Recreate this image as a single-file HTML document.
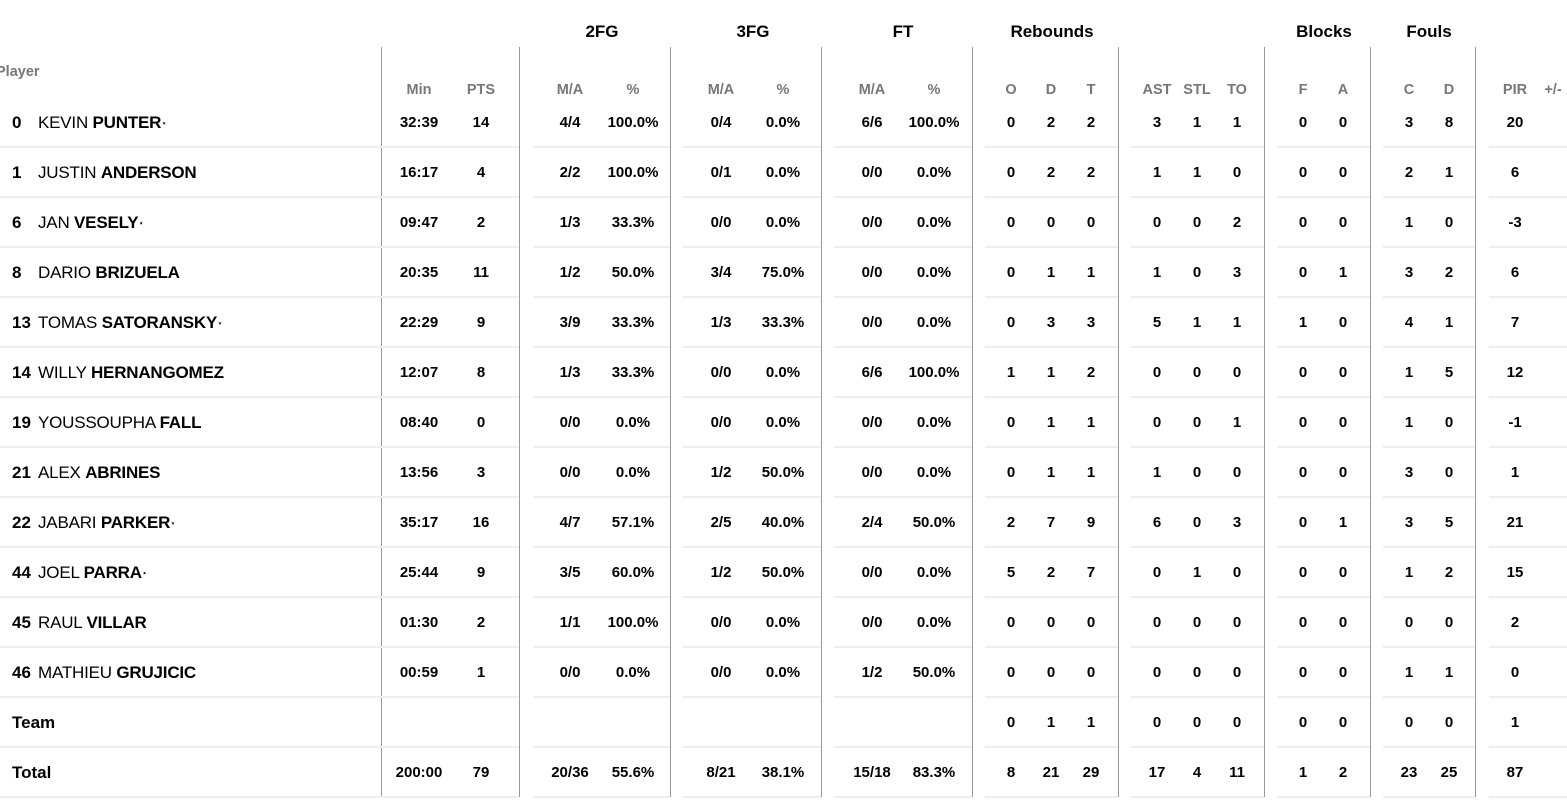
<!DOCTYPE html>
<html><head><meta charset="utf-8"><style>
body{margin:0;width:1567px;height:802px;background:#fff;position:relative;overflow:hidden;font-family:"Liberation Sans",sans-serif;color:#000}
.v{position:absolute;top:47px;height:750px;width:1px;background:#999}
.r{position:absolute;left:0;width:1567px;height:20px}
.r span{position:absolute;width:80px;margin-left:-40px;text-align:center;font-size:15px;font-weight:bold;top:0;line-height:20px}
.r span.nm{width:auto;margin-left:0;text-align:left;font-size:17px;font-weight:normal;left:38px;letter-spacing:-0.2px}
.r span.nm b{font-weight:bold}
.r span.no{width:auto;margin-left:0;left:12px;text-align:left;font-size:17px}
.r span.tm{width:auto;margin-left:0;left:12px;text-align:left;font-size:17px}
.g{position:absolute;top:22px;font-size:17px;font-weight:bold;width:120px;margin-left:-60px;text-align:center}
.s{color:#777}
.s span{font-weight:bold;font-size:14.5px}
sup{font-size:9px;vertical-align:2px}
.a{left:419px}.b{left:481px}.c{left:570px}.d{left:633px}.e{left:721px}.f{left:783px}.g2{left:872px}.h2{left:934px}
.i{left:1011px}.j{left:1051px}.k{left:1091px}.l{left:1157px}.m{left:1197px}.n{left:1237px}.o{left:1303px}.p{left:1343px}.q{left:1409px}.t{left:1449px}.u{left:1515px}.w{left:1553px}
</style></head><body>
<div class="g" style="left:602px">2FG</div>
<div class="g" style="left:753px">3FG</div>
<div class="g" style="left:903px">FT</div>
<div class="g" style="left:1052px">Rebounds</div>
<div class="g" style="left:1324px">Blocks</div>
<div class="g" style="left:1429px">Fouls</div>
<div style="position:absolute;left:-4px;top:64px;font-size:14.5px;font-weight:bold;color:#777">Player</div>
<div class="v" style="left:381px"></div><div class="v" style="left:519px"></div><div class="v" style="left:670px"></div><div class="v" style="left:821px"></div><div class="v" style="left:972px"></div><div class="v" style="left:1118px"></div><div class="v" style="left:1264px"></div><div class="v" style="left:1370px"></div><div class="v" style="left:1475px"></div>
<div class="r s" style="top:80px"><span class="a">Min</span><span class="b">PTS</span><span class="c">M/A</span><span class="d">%</span><span class="e">M/A</span><span class="f">%</span><span class="g2">M/A</span><span class="h2">%</span><span class="i">O</span><span class="j">D</span><span class="k">T</span><span class="l">AST</span><span class="m">STL</span><span class="n">TO</span><span class="o">F</span><span class="p">A</span><span class="q">C</span><span class="t">D</span><span class="u">PIR</span><span class="w">+/-</span></div>

<div class="r" style="top:113px"><span class="no">0</span><span class="nm">KEVIN <b>PUNTER</b><sup>⋆</sup></span><span class="a">32:39</span><span class="b">14</span><span class="c">4/4</span><span class="d">100.0%</span><span class="e">0/4</span><span class="f">0.0%</span><span class="g2">6/6</span><span class="h2">100.0%</span><span class="i">0</span><span class="j">2</span><span class="k">2</span><span class="l">3</span><span class="m">1</span><span class="n">1</span><span class="o">0</span><span class="p">0</span><span class="q">3</span><span class="t">8</span><span class="u">20</span></div>
<div class="r" style="top:163px"><span class="no">1</span><span class="nm">JUSTIN <b>ANDERSON</b></span><span class="a">16:17</span><span class="b">4</span><span class="c">2/2</span><span class="d">100.0%</span><span class="e">0/1</span><span class="f">0.0%</span><span class="g2">0/0</span><span class="h2">0.0%</span><span class="i">0</span><span class="j">2</span><span class="k">2</span><span class="l">1</span><span class="m">1</span><span class="n">0</span><span class="o">0</span><span class="p">0</span><span class="q">2</span><span class="t">1</span><span class="u">6</span></div>
<div class="r" style="top:213px"><span class="no">6</span><span class="nm">JAN <b>VESELY</b><sup>⋆</sup></span><span class="a">09:47</span><span class="b">2</span><span class="c">1/3</span><span class="d">33.3%</span><span class="e">0/0</span><span class="f">0.0%</span><span class="g2">0/0</span><span class="h2">0.0%</span><span class="i">0</span><span class="j">0</span><span class="k">0</span><span class="l">0</span><span class="m">0</span><span class="n">2</span><span class="o">0</span><span class="p">0</span><span class="q">1</span><span class="t">0</span><span class="u">-3</span></div>
<div class="r" style="top:263px"><span class="no">8</span><span class="nm">DARIO <b>BRIZUELA</b></span><span class="a">20:35</span><span class="b">11</span><span class="c">1/2</span><span class="d">50.0%</span><span class="e">3/4</span><span class="f">75.0%</span><span class="g2">0/0</span><span class="h2">0.0%</span><span class="i">0</span><span class="j">1</span><span class="k">1</span><span class="l">1</span><span class="m">0</span><span class="n">3</span><span class="o">0</span><span class="p">1</span><span class="q">3</span><span class="t">2</span><span class="u">6</span></div>
<div class="r" style="top:313px"><span class="no">13</span><span class="nm">TOMAS <b>SATORANSKY</b><sup>⋆</sup></span><span class="a">22:29</span><span class="b">9</span><span class="c">3/9</span><span class="d">33.3%</span><span class="e">1/3</span><span class="f">33.3%</span><span class="g2">0/0</span><span class="h2">0.0%</span><span class="i">0</span><span class="j">3</span><span class="k">3</span><span class="l">5</span><span class="m">1</span><span class="n">1</span><span class="o">1</span><span class="p">0</span><span class="q">4</span><span class="t">1</span><span class="u">7</span></div>
<div class="r" style="top:363px"><span class="no">14</span><span class="nm">WILLY <b>HERNANGOMEZ</b></span><span class="a">12:07</span><span class="b">8</span><span class="c">1/3</span><span class="d">33.3%</span><span class="e">0/0</span><span class="f">0.0%</span><span class="g2">6/6</span><span class="h2">100.0%</span><span class="i">1</span><span class="j">1</span><span class="k">2</span><span class="l">0</span><span class="m">0</span><span class="n">0</span><span class="o">0</span><span class="p">0</span><span class="q">1</span><span class="t">5</span><span class="u">12</span></div>
<div class="r" style="top:413px"><span class="no">19</span><span class="nm">YOUSSOUPHA <b>FALL</b></span><span class="a">08:40</span><span class="b">0</span><span class="c">0/0</span><span class="d">0.0%</span><span class="e">0/0</span><span class="f">0.0%</span><span class="g2">0/0</span><span class="h2">0.0%</span><span class="i">0</span><span class="j">1</span><span class="k">1</span><span class="l">0</span><span class="m">0</span><span class="n">1</span><span class="o">0</span><span class="p">0</span><span class="q">1</span><span class="t">0</span><span class="u">-1</span></div>
<div class="r" style="top:463px"><span class="no">21</span><span class="nm">ALEX <b>ABRINES</b></span><span class="a">13:56</span><span class="b">3</span><span class="c">0/0</span><span class="d">0.0%</span><span class="e">1/2</span><span class="f">50.0%</span><span class="g2">0/0</span><span class="h2">0.0%</span><span class="i">0</span><span class="j">1</span><span class="k">1</span><span class="l">1</span><span class="m">0</span><span class="n">0</span><span class="o">0</span><span class="p">0</span><span class="q">3</span><span class="t">0</span><span class="u">1</span></div>
<div class="r" style="top:513px"><span class="no">22</span><span class="nm">JABARI <b>PARKER</b><sup>⋆</sup></span><span class="a">35:17</span><span class="b">16</span><span class="c">4/7</span><span class="d">57.1%</span><span class="e">2/5</span><span class="f">40.0%</span><span class="g2">2/4</span><span class="h2">50.0%</span><span class="i">2</span><span class="j">7</span><span class="k">9</span><span class="l">6</span><span class="m">0</span><span class="n">3</span><span class="o">0</span><span class="p">1</span><span class="q">3</span><span class="t">5</span><span class="u">21</span></div>
<div class="r" style="top:563px"><span class="no">44</span><span class="nm">JOEL <b>PARRA</b><sup>⋆</sup></span><span class="a">25:44</span><span class="b">9</span><span class="c">3/5</span><span class="d">60.0%</span><span class="e">1/2</span><span class="f">50.0%</span><span class="g2">0/0</span><span class="h2">0.0%</span><span class="i">5</span><span class="j">2</span><span class="k">7</span><span class="l">0</span><span class="m">1</span><span class="n">0</span><span class="o">0</span><span class="p">0</span><span class="q">1</span><span class="t">2</span><span class="u">15</span></div>
<div class="r" style="top:613px"><span class="no">45</span><span class="nm">RAUL <b>VILLAR</b></span><span class="a">01:30</span><span class="b">2</span><span class="c">1/1</span><span class="d">100.0%</span><span class="e">0/0</span><span class="f">0.0%</span><span class="g2">0/0</span><span class="h2">0.0%</span><span class="i">0</span><span class="j">0</span><span class="k">0</span><span class="l">0</span><span class="m">0</span><span class="n">0</span><span class="o">0</span><span class="p">0</span><span class="q">0</span><span class="t">0</span><span class="u">2</span></div>
<div class="r" style="top:663px"><span class="no">46</span><span class="nm">MATHIEU <b>GRUJICIC</b></span><span class="a">00:59</span><span class="b">1</span><span class="c">0/0</span><span class="d">0.0%</span><span class="e">0/0</span><span class="f">0.0%</span><span class="g2">1/2</span><span class="h2">50.0%</span><span class="i">0</span><span class="j">0</span><span class="k">0</span><span class="l">0</span><span class="m">0</span><span class="n">0</span><span class="o">0</span><span class="p">0</span><span class="q">1</span><span class="t">1</span><span class="u">0</span></div>
<div class="r" style="top:713px"><span class="tm">Team</span><span class="i">0</span><span class="j">1</span><span class="k">1</span><span class="l">0</span><span class="m">0</span><span class="n">0</span><span class="o">0</span><span class="p">0</span><span class="q">0</span><span class="t">0</span><span class="u">1</span></div>
<div class="r" style="top:763px"><span class="tm">Total</span><span class="a">200:00</span><span class="b">79</span><span class="c">20/36</span><span class="d">55.6%</span><span class="e">8/21</span><span class="f">38.1%</span><span class="g2">15/18</span><span class="h2">83.3%</span><span class="i">8</span><span class="j">21</span><span class="k">29</span><span class="l">17</span><span class="m">4</span><span class="n">11</span><span class="o">1</span><span class="p">2</span><span class="q">23</span><span class="t">25</span><span class="u">87</span></div>

<svg style="position:absolute;left:0;top:0" width="1567" height="802">
<defs>
<path id="sep" d="M0 0H519M533 0H670M683 0H821M834 0H972M985 0H1118M1131 0H1264M1277 0H1370M1383 0H1475M1489 0H1567"/>
</defs>
<g stroke="#eee" stroke-width="2">
<use href="#sep" y="147"/><use href="#sep" y="197"/><use href="#sep" y="247"/><use href="#sep" y="297"/><use href="#sep" y="347"/><use href="#sep" y="397"/><use href="#sep" y="447"/><use href="#sep" y="497"/><use href="#sep" y="547"/><use href="#sep" y="597"/><use href="#sep" y="647"/><use href="#sep" y="697"/><use href="#sep" y="747"/><use href="#sep" y="797"/>
</g>
</svg>
</body></html>
